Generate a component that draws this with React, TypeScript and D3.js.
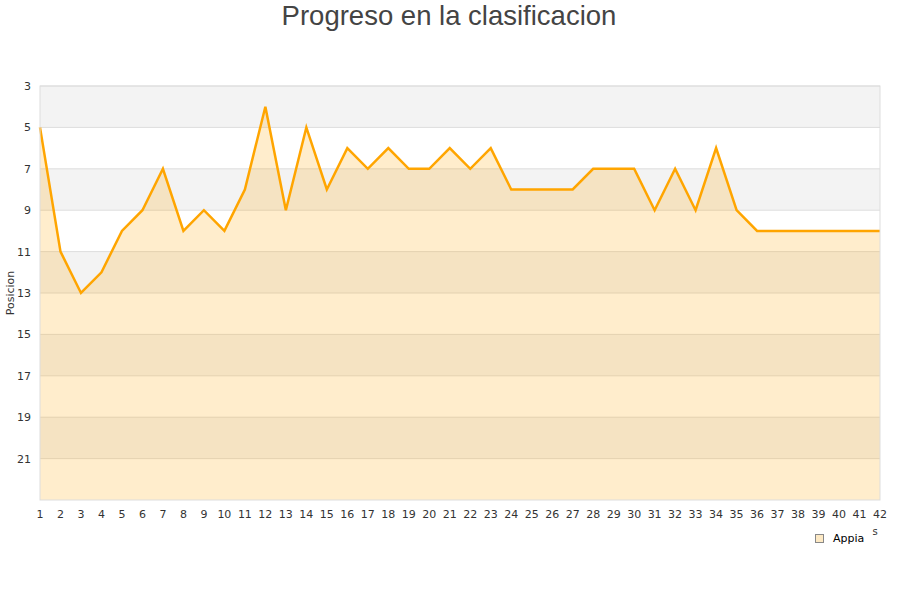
import { useEffect, useRef } from 'react';
import * as d3 from 'd3';

const rounds = d3.range(1, 43);
const positions = [
  5, 11, 13, 12, 10, 9, 7, 10, 9, 10, 8, 4, 9, 5, 8, 6, 7, 6, 7, 7, 6,
  7, 6, 8, 8, 8, 8, 7, 7, 7, 9, 7, 9, 6, 9, 10, 10, 10, 10, 10, 10, 10,
];
const yTicks = [3, 5, 7, 9, 11, 13, 15, 17, 19, 21];
const seriesName = 'Appia';

const App = () => {
  const svgRef = useRef<SVGSVGElement>(null);

  useEffect(() => {
    if (!svgRef.current) return;
    const width = 900;
    const height = 600;
    const margin = { top: 86, right: 20, bottom: 100, left: 40 };
    const innerWidth = width - margin.left - margin.right;
    const innerHeight = height - margin.top - margin.bottom;

    const svg = d3.select(svgRef.current);
    svg.selectAll('*').remove();

    const x = d3.scaleLinear().domain([1, 42]).range([0, innerWidth]);
    const y = d3.scaleLinear().domain([3, 23]).range([0, innerHeight]);

    const g = svg.append('g').attr('transform', `translate(${margin.left},${margin.top})`);

    // alternating bands
    yTicks.forEach((t, i) => {
      g.append('rect')
        .attr('x', 0)
        .attr('y', y(t))
        .attr('width', innerWidth)
        .attr('height', y(t + 2) - y(t))
        .attr('fill', i % 2 === 0 ? '#f3f3f3' : '#ffffff');
    });

    // grid lines
    g.selectAll('.grid')
      .data(yTicks)
      .enter()
      .append('line')
      .attr('x1', 0)
      .attr('x2', innerWidth)
      .attr('y1', d => y(d))
      .attr('y2', d => y(d))
      .attr('stroke', '#dddddd')
      .attr('stroke-width', 1);

    const pts = rounds.map((r, i) => [r, positions[i]] as [number, number]);

    const area = d3.area<[number, number]>()
      .x(d => x(d[0]))
      .y0(y(23))
      .y1(d => y(d[1]));

    g.append('path')
      .datum(pts)
      .attr('d', area)
      .attr('fill', 'rgba(255,165,0,0.2)');

    const line = d3.line<[number, number]>()
      .x(d => x(d[0]))
      .y(d => y(d[1]));

    g.append('path')
      .datum(pts)
      .attr('d', line)
      .attr('fill', 'none')
      .attr('stroke', '#ffa500')
      .attr('stroke-width', 2.5)
      .attr('stroke-linejoin', 'miter');

    // frame
    g.append('rect')
      .attr('x', 0)
      .attr('y', 0)
      .attr('width', innerWidth)
      .attr('height', innerHeight)
      .attr('fill', 'none')
      .attr('stroke', '#dddddd');

    // y tick labels
    g.selectAll('.ylab')
      .data(yTicks)
      .enter()
      .append('text')
      .attr('x', -9)
      .attr('y', d => y(d) + 4)
      .attr('text-anchor', 'end')
      .style('font-family', 'DejaVu Sans')
      .style('font-size', '11px')
      .attr('fill', '#333')
      .text(d => d);

    // x tick labels
    g.selectAll('.xlab')
      .data(rounds)
      .enter()
      .append('text')
      .attr('x', d => x(d))
      .attr('y', innerHeight + 18)
      .attr('text-anchor', 'middle')
      .style('font-family', 'DejaVu Sans')
      .style('font-size', '11px')
      .attr('fill', '#333')
      .text(d => d);

    // y axis title
    svg.append('text')
      .attr('transform', `translate(14,${margin.top + innerHeight / 2}) rotate(-90)`)
      .attr('text-anchor', 'middle')
      .style('font-family', 'DejaVu Sans')
      .style('font-size', '11px')
      .attr('fill', '#333')
      .text('Posicion');

    // title
    svg.append('text')
      .attr('x', width / 2 - 1)
      .attr('y', 25)
      .attr('text-anchor', 'middle')
      .style('font-family', 'Liberation Sans')
      .style('font-size', '27.5px')
      .attr('fill', '#444')
      .text('Progreso en la clasificacion');

    // clipped x axis title remnant
    svg.append('text')
      .attr('x', 875)
      .attr('y', 535)
      .attr('text-anchor', 'middle')
      .style('font-family', 'DejaVu Sans')
      .style('font-size', '10px')
      .attr('fill', '#333')
      .text('s');

    // legend
    svg.append('rect')
      .attr('x', 815.5)
      .attr('y', 534.5)
      .attr('width', 8)
      .attr('height', 8)
      .attr('fill', '#fde9c4')
      .attr('stroke', '#888');

    svg.append('text')
      .attr('x', 833)
      .attr('y', 542)
      .style('font-family', 'DejaVu Sans')
      .style('font-size', '11px')
      .attr('fill', '#000')
      .text(seriesName);
  }, []);

  return (
    <svg
      ref={svgRef}
      width={900}
      height={600}
      style={{ position: 'absolute', left: 0, top: 0, background: '#fff' }}
    />
  );
};

export default App;
